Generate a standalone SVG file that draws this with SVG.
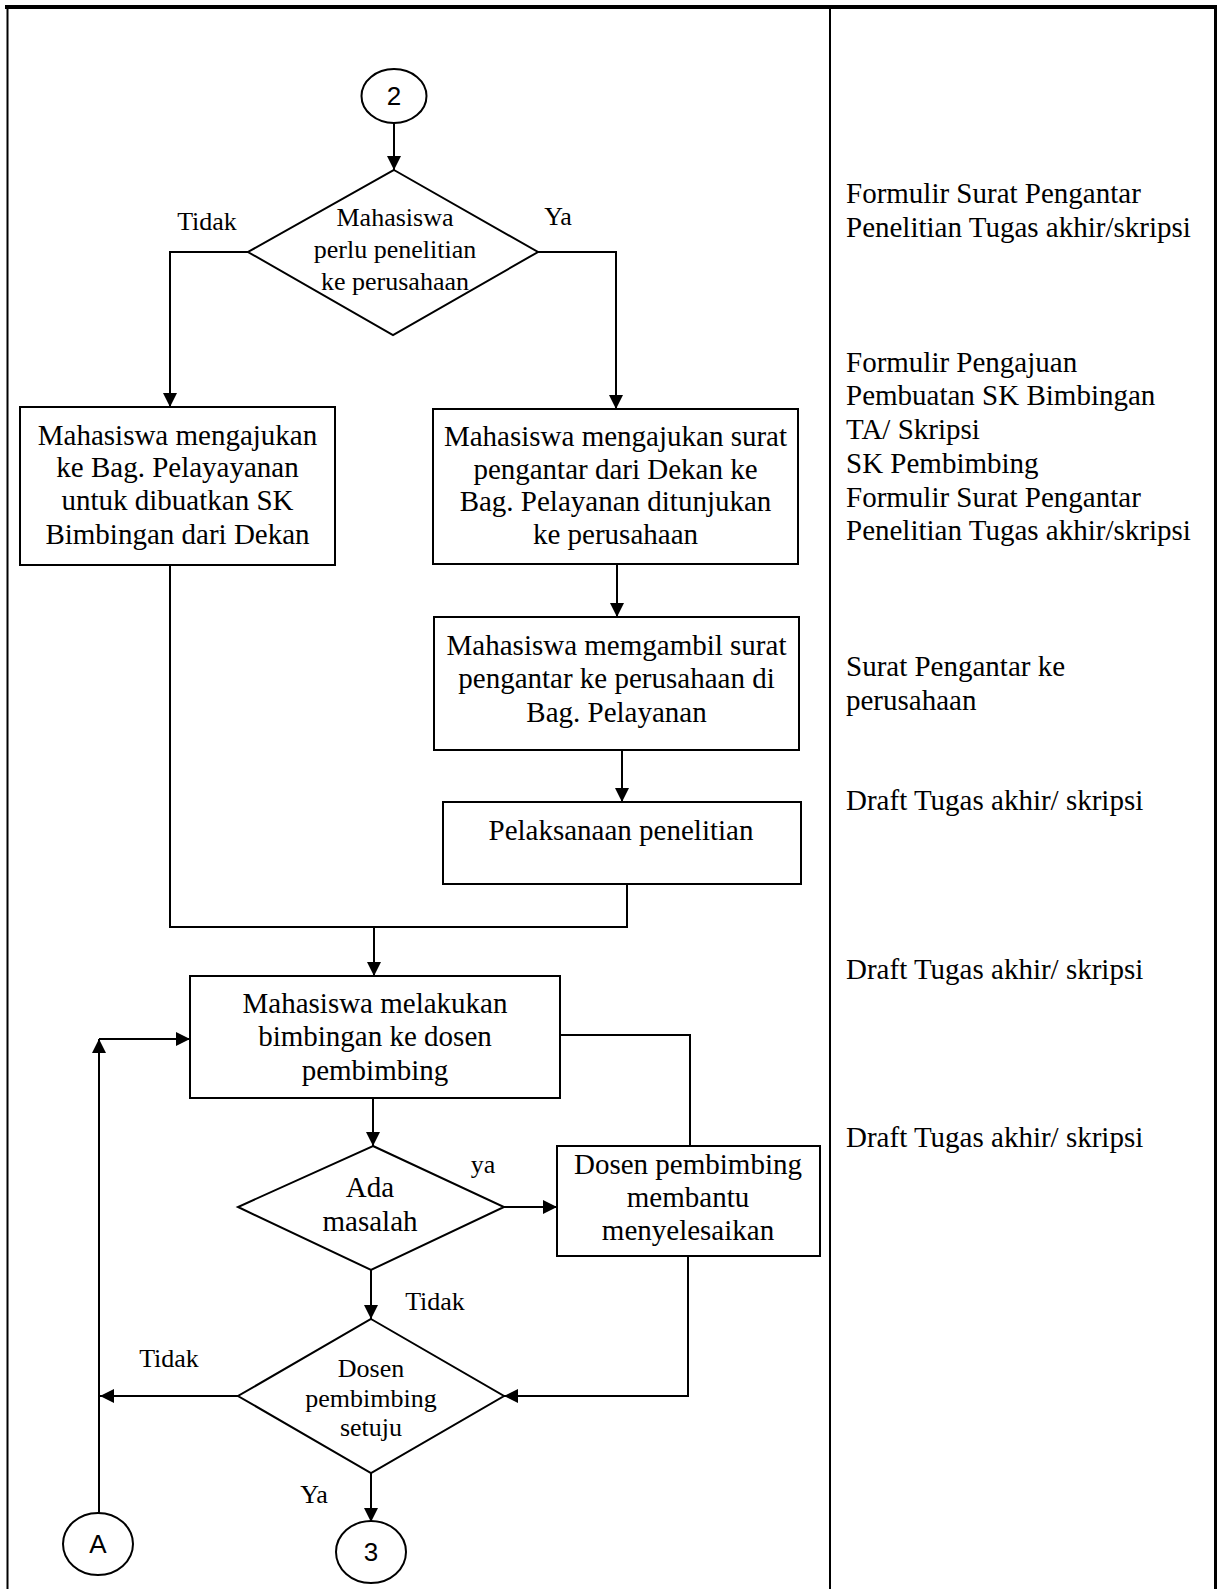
<svg xmlns="http://www.w3.org/2000/svg" width="1223" height="1589" viewBox="0 0 1223 1589">
<style>
.shape{fill:#fff;stroke:#000;stroke-width:2}
.t{font-family:"Liberation Serif","Times New Roman",serif;font-size:29px;fill:#000}
.d{font-family:"Liberation Serif","Times New Roman",serif;font-size:26px;fill:#000;text-anchor:middle}
.c{font-family:"Liberation Sans",Arial,sans-serif;font-size:26px;fill:#000;text-anchor:middle}
.m{text-anchor:middle}
.conn{fill:none;stroke:#000;stroke-width:2}
.frame{fill:none;stroke:#000}
</style>
<defs>
<marker id="ah" viewBox="0 0 14 14" refX="14" refY="7" markerWidth="14" markerHeight="14" markerUnits="userSpaceOnUse" orient="auto">
<path d="M0,0 L14,7 L0,14 Z" fill="#000"/>
</marker>
</defs>

<g id="frame">
<line class="frame" x1="5" y1="7" x2="1217" y2="7" stroke-width="4"/>
<line class="frame" x1="7.5" y1="7" x2="7.5" y2="1589" stroke-width="2"/>
<line class="frame" x1="830" y1="7" x2="830" y2="1589" stroke-width="2"/>
<line class="frame" x1="1215.5" y1="7" x2="1215.5" y2="1589" stroke-width="3"/>
</g>

<g id="connectors">
<path class="conn" d="M394,123 L394,170" marker-end="url(#ah)"/>
<path class="conn" d="M248,252 L170,252 L170,407" marker-end="url(#ah)"/>
<path class="conn" d="M538,252 L616,252 L616,409" marker-end="url(#ah)"/>
<path class="conn" d="M617,564 L617,617" marker-end="url(#ah)"/>
<path class="conn" d="M622,750 L622,802" marker-end="url(#ah)"/>
<path class="conn" d="M627,884 L627,927 L170,927 L170,565"/>
<path class="conn" d="M374,927 L374,976" marker-end="url(#ah)"/>
<path class="conn" d="M373,1098 L373,1146" marker-end="url(#ah)"/>
<path class="conn" d="M504,1207 L557,1207" marker-end="url(#ah)"/>
<path class="conn" d="M560,1035 L690,1035 L690,1146"/>
<path class="conn" d="M371,1270 L371,1319" marker-end="url(#ah)"/>
<path class="conn" d="M688,1256 L688,1396 L504,1396" marker-end="url(#ah)"/>
<path class="conn" d="M238,1396 L100,1396" marker-end="url(#ah)"/>
<path class="conn" d="M371,1473 L371,1522" marker-end="url(#ah)"/>
<path class="conn" d="M99,1513 L99,1039" marker-end="url(#ah)"/>
<path class="conn" d="M99,1039 L190,1039" marker-end="url(#ah)"/>
<text class="d" x="207" y="230">Tidak</text>
<text class="d" x="558" y="225">Ya</text>
<text class="d" x="483" y="1173">ya</text>
<text class="d" x="435" y="1310">Tidak</text>
<text class="d" x="169" y="1367">Tidak</text>
<text class="d" x="314" y="1503">Ya</text>
</g>

<g id="start2">
<ellipse class="shape" cx="394" cy="96" rx="32.5" ry="27"/>
<text class="c" x="394" y="105">2</text>
</g>

<g id="decision1">
<polygon class="shape" points="394,170 538,252 393,335 248,252"/>
<text class="d" x="395" y="226">Mahasiswa</text>
<text class="d" x="395" y="258">perlu penelitian</text>
<text class="d" x="395" y="290">ke perusahaan</text>
</g>

<g id="boxSK">
<rect class="shape" x="20" y="407" width="315" height="158"/>
<text class="t m" x="177.5" y="445">Mahasiswa mengajukan</text>
<text class="t m" x="177.5" y="477">ke Bag. Pelayayanan</text>
<text class="t m" x="177.5" y="510">untuk dibuatkan SK</text>
<text class="t m" x="177.5" y="544">Bimbingan dari Dekan</text>
</g>

<g id="boxSurat">
<rect class="shape" x="433" y="409" width="365" height="155"/>
<text class="t m" x="615.5" y="446">Mahasiswa mengajukan surat</text>
<text class="t m" x="615.5" y="479">pengantar dari Dekan ke</text>
<text class="t m" x="615.5" y="511">Bag. Pelayanan ditunjukan</text>
<text class="t m" x="615.5" y="544">ke perusahaan</text>
</g>

<g id="boxAmbil">
<rect class="shape" x="434" y="617" width="365" height="133"/>
<text class="t m" x="616.5" y="655">Mahasiswa memgambil surat</text>
<text class="t m" x="616.5" y="688">pengantar ke perusahaan di</text>
<text class="t m" x="616.5" y="722">Bag. Pelayanan</text>
</g>

<g id="boxPenelitian">
<rect class="shape" x="443" y="802" width="358" height="82"/>
<text class="t m" x="621" y="840">Pelaksanaan penelitian</text>
</g>

<g id="boxBimbingan">
<rect class="shape" x="190" y="976" width="370" height="122"/>
<text class="t m" x="375" y="1013">Mahasiswa melakukan</text>
<text class="t m" x="375" y="1046">bimbingan ke dosen</text>
<text class="t m" x="375" y="1080">pembimbing</text>
</g>

<g id="decision2">
<polygon class="shape" points="373,1146 504,1207 371,1270 238,1207"/>
<text class="t m" x="370" y="1197">Ada</text>
<text class="t m" x="370" y="1231">masalah</text>
</g>

<g id="boxDosen">
<rect class="shape" x="557" y="1146" width="263" height="110"/>
<text class="t m" x="688" y="1174">Dosen pembimbing</text>
<text class="t m" x="688" y="1207">membantu</text>
<text class="t m" x="688" y="1240">menyelesaikan</text>
</g>

<g id="decision3">
<polygon class="shape" points="371,1319 504,1396 371,1473 238,1396"/>
<text class="d" x="371" y="1377">Dosen</text>
<text class="d" x="371" y="1407">pembimbing</text>
<text class="d" x="371" y="1436">setuju</text>
</g>

<g id="connA">
<ellipse class="shape" cx="98" cy="1544" rx="35" ry="31"/>
<text class="c" x="98" y="1553">A</text>
</g>

<g id="conn3">
<ellipse class="shape" cx="371" cy="1552" rx="35" ry="31"/>
<text class="c" x="371" y="1561">3</text>
</g>

<g id="documents">
<text class="t" x="846" y="203">Formulir Surat Pengantar</text>
<text class="t" x="846" y="237">Penelitian Tugas akhir/skripsi</text>
<text class="t" x="846" y="372">Formulir Pengajuan</text>
<text class="t" x="846" y="405">Pembuatan SK Bimbingan</text>
<text class="t" x="846" y="439">TA/ Skripsi</text>
<text class="t" x="846" y="473">SK Pembimbing</text>
<text class="t" x="846" y="507">Formulir Surat Pengantar</text>
<text class="t" x="846" y="540">Penelitian Tugas akhir/skripsi</text>
<text class="t" x="846" y="676">Surat Pengantar ke</text>
<text class="t" x="846" y="710">perusahaan</text>
<text class="t" x="846" y="810">Draft Tugas akhir/ skripsi</text>
<text class="t" x="846" y="979">Draft Tugas akhir/ skripsi</text>
<text class="t" x="846" y="1147">Draft Tugas akhir/ skripsi</text>
</g>
</svg>
